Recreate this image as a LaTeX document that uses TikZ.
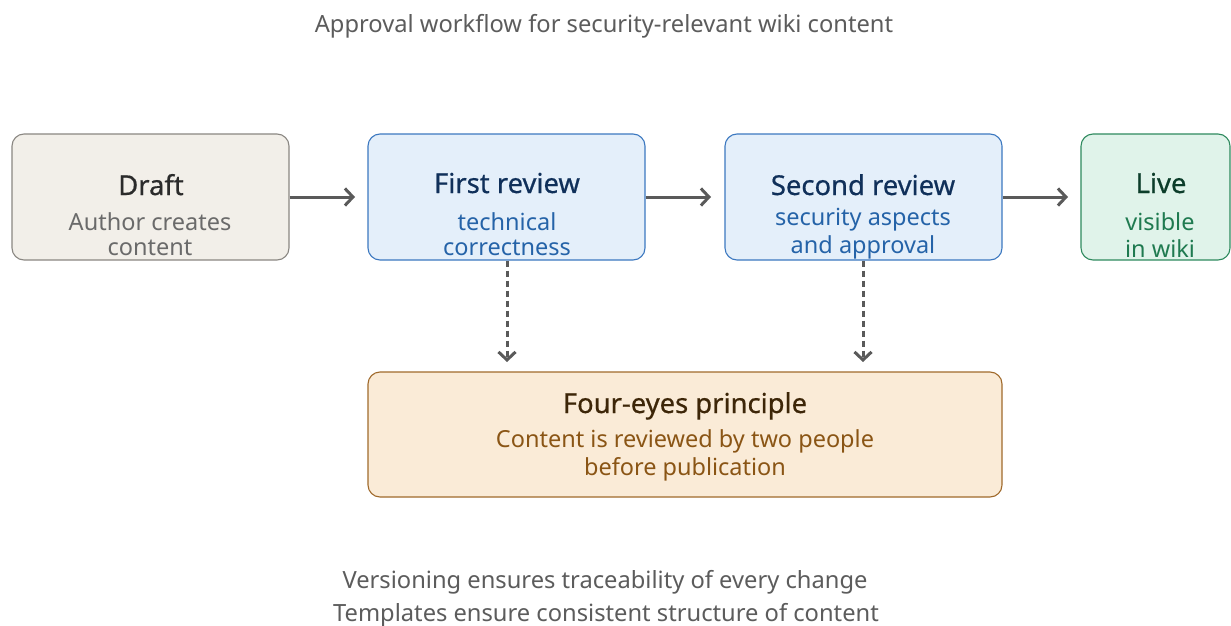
\documentclass[tikz,border=0pt]{standalone}
\usepackage{fontspec}
\setmainfont{Noto Sans}
\newfontface\medfont{Noto Sans}[FakeBold=0.6]
\usetikzlibrary{arrows.meta}
\definecolor{arrowc}{HTML}{5A5A5A}
\definecolor{capc}{HTML}{5C5C5C}
\definecolor{draftfill}{HTML}{F2EFE9}
\definecolor{draftdraw}{HTML}{8A8782}
\definecolor{drafttitle}{HTML}{2B2B2B}
\definecolor{draftsub}{HTML}{6A6A6A}
\definecolor{bluefill}{HTML}{E4EFFA}
\definecolor{bluedraw}{HTML}{3C78C0}
\definecolor{bluetitle}{HTML}{10305A}
\definecolor{bluesub}{HTML}{2563A8}
\definecolor{greenfill}{HTML}{E0F3EA}
\definecolor{greendraw}{HTML}{2E8A5E}
\definecolor{greentitle}{HTML}{0C3D2A}
\definecolor{greensub}{HTML}{1F7A50}
\definecolor{orfill}{HTML}{FAEBD7}
\definecolor{ordraw}{HTML}{A06A2C}
\definecolor{ortitle}{HTML}{3D2608}
\definecolor{orsub}{HTML}{8A5515}
\tikzset{
  box/.style={rectangle, rounded corners=12pt, line width=1.1pt, inner sep=0pt},
  ttl/.style={anchor=base, inner sep=0pt, font=\fontsize{27.4}{32}\selectfont\medfont},
  sub/.style={anchor=base, inner sep=0pt, font=\fontsize{23.5}{28}\selectfont},
  captext/.style={anchor=base, inner sep=0pt, text=capc, font=\fontsize{23.7}{28}\selectfont},
  flow/.style={draw=arrowc, line width=3pt, -{Straight Barb[length=8pt,width=17pt]}},
  dflow/.style={flow, dash pattern=on 6pt off 4pt}
}
\begin{document}
\begin{tikzpicture}[x=1pt,y=-1pt]
\useasboundingbox (0,0) rectangle (1231,626);
\fill[white] (0,0) rectangle (1231,626);

\node[captext] (title) at (604,33) {Approval workflow for security-relevant wiki content};

\node[box, fill=draftfill, draw=draftdraw, minimum width=277pt, minimum height=126pt] (draft) at (150.5,197) {};
\node[box, fill=bluefill, draw=bluedraw, minimum width=277pt, minimum height=126pt] (first) at (506.5,197) {};
\node[box, fill=bluefill, draw=bluedraw, minimum width=277pt, minimum height=126pt] (second) at (863.5,197) {};
\node[box, fill=greenfill, draw=greendraw, minimum width=149pt, minimum height=126pt] (live) at (1155.5,197) {};
\node[box, fill=orfill, draw=ordraw, minimum width=634pt, minimum height=125pt] (four) at (685,434.5) {};

\node[ttl, text=drafttitle] (draftt) at (151,195) {Draft};
\node[sub, text=draftsub] (drafts1) at (150,230) {Author creates};
\node[sub, text=draftsub] (drafts2) at (150,255) {content};

\node[ttl, text=bluetitle] (firstt) at (507,193) {First review};
\node[sub, text=bluesub] (firsts1) at (507,230) {technical};
\node[sub, text=bluesub] (firsts2) at (507,255) {correctness};

\node[ttl, text=bluetitle] (secondt) at (863,195) {Second review};
\node[sub, text=bluesub] (seconds1) at (863,225) {security aspects};
\node[sub, text=bluesub] (seconds2) at (863,253) {and approval};

\node[ttl, text=greentitle] (livet) at (1161,193) {Live};
\node[sub, text=greensub] (lives1) at (1160,230) {visible};
\node[sub, text=greensub] (lives2) at (1160,257) {in wiki};

\node[ttl, text=ortitle] (fourt) at (685,413) {Four-eyes principle};
\node[sub, text=orsub] (fours1) at (685,447) {Content is reviewed by two people};
\node[sub, text=orsub] (fours2) at (685,475) {before publication};

\node[captext] (foot1) at (605,588) {Versioning ensures traceability of every change};
\node[captext] (foot2) at (606,621) {Templates ensure consistent structure of content};

\coordinate (a1) at (355,197);
\coordinate (a2) at (711,197);
\coordinate (a3) at (1068,197);
\coordinate (d1) at (507,362);
\coordinate (d2) at (863,362);
\draw[flow] (draft.east |- a1) -- (a1);
\draw[flow] (first.east |- a2) -- (a2);
\draw[flow] (second.east |- a3) -- (a3);
\draw[dflow] (first.south -| d1) -- (d1);
\draw[dflow] (second.south -| d2) -- (d2);
\end{tikzpicture}
\end{document}
